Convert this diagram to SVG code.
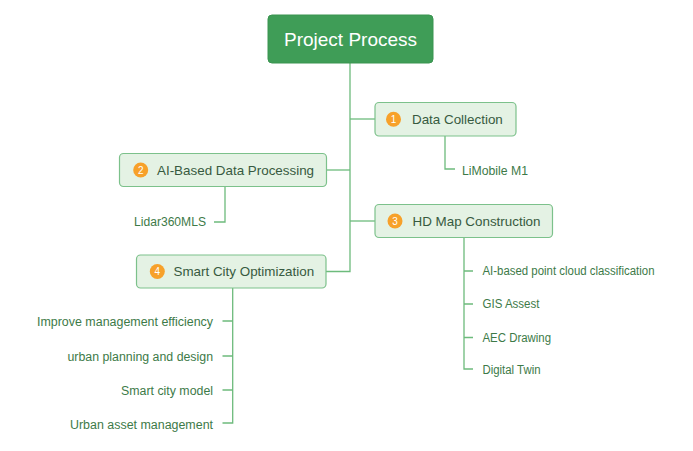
<svg xmlns="http://www.w3.org/2000/svg" width="693" height="451" viewBox="0 0 693 451">
<style>
.bg{fill:#ffffff}
.root{fill:#3f9d57;stroke:#3a9450;stroke-width:1}
.rt{font-family:"Liberation Sans",Arial,sans-serif;font-size:19px;fill:#ffffff}
.box{fill:#e4f2e4;stroke:#7cc18b;stroke-width:1.2}
.bt{font-family:"Liberation Sans",Arial,sans-serif;font-size:13.4px;fill:#375a40}
.badge{fill:#f7a12a}
.bn{font-family:"Liberation Sans",Arial,sans-serif;font-size:10px;fill:#ffffff;text-anchor:middle}
.ct{font-family:"Liberation Sans",Arial,sans-serif;font-size:12px;fill:#3d7a48}
.ln{fill:none;stroke:#6dbb7c;stroke-width:1.3}
</style>
<rect class="bg" x="0" y="0" width="693" height="451"/>
<g id="connectors">
<path class="ln" d="M350 63 V271.5 H326"/>
<path class="ln" d="M350 119 H375"/>
<path class="ln" d="M350 170 H327"/>
<path class="ln" d="M350 221 H375"/>
<path class="ln" d="M445 136 V169 H455"/>
<path class="ln" d="M225 187 V222 H214"/>
<path class="ln" d="M464 238 V369 H473 M464 271 H473 M464 304 H473 M464 337.5 H473"/>
<path class="ln" d="M232.7 288 V423 H222.5 M232.7 321 H222.5 M232.7 356 H222.5 M232.7 390 H222.5"/>
</g>
<g id="root">
<rect class="root" x="268" y="15" width="165" height="48" rx="4"/>
<text class="rt" x="350.5" y="46" text-anchor="middle">Project Process</text>
</g>
<g id="n1">
<rect class="box" x="375" y="102.5" width="141" height="33.5" rx="4"/>
<circle class="badge" cx="393.5" cy="119.3" r="7.5"/>
<text class="bn" x="393.5" y="122.8">1</text>
<text class="bt" x="412" y="123.8">Data Collection</text>
</g>
<g id="n1a">
<text class="ct" x="462" y="174.5" textLength="66" lengthAdjust="spacingAndGlyphs">LiMobile M1</text>
</g>
<g id="n2">
<rect class="box" x="119.5" y="153.5" width="207" height="33" rx="4"/>
<circle class="badge" cx="140.7" cy="170" r="7.5"/>
<text class="bn" x="140.7" y="173.5">2</text>
<text class="bt" x="157" y="174.6">AI-Based Data Processing</text>
</g>
<g id="n2a">
<text class="ct" x="206" y="226" text-anchor="end" textLength="72" lengthAdjust="spacingAndGlyphs">Lidar360MLS</text>
</g>
<g id="n3">
<rect class="box" x="375" y="204.5" width="177.5" height="33" rx="4"/>
<circle class="badge" cx="395" cy="221" r="7.5"/>
<text class="bn" x="395" y="224.5">3</text>
<text class="bt" x="412.5" y="225.6">HD Map Construction</text>
</g>
<g id="n3a"><text class="ct" x="482.5" y="275" textLength="172" lengthAdjust="spacingAndGlyphs">AI-based point cloud classification</text></g>
<g id="n3b"><text class="ct" x="482.5" y="308" textLength="57" lengthAdjust="spacingAndGlyphs">GIS Assest</text></g>
<g id="n3c"><text class="ct" x="482.5" y="341.5" textLength="68.5" lengthAdjust="spacingAndGlyphs">AEC Drawing</text></g>
<g id="n3d"><text class="ct" x="482.5" y="373.5" textLength="58" lengthAdjust="spacingAndGlyphs">Digital Twin</text></g>
<g id="n4">
<rect class="box" x="136.5" y="255" width="189.5" height="33" rx="4"/>
<circle class="badge" cx="157.3" cy="271.5" r="7.5"/>
<text class="bn" x="157.3" y="275">4</text>
<text class="bt" x="173.5" y="276">Smart City Optimization</text>
</g>
<g id="n4a"><text class="ct" x="213" y="325.5" text-anchor="end" textLength="176" lengthAdjust="spacingAndGlyphs">Improve management efficiency</text></g>
<g id="n4b"><text class="ct" x="213" y="360.5" text-anchor="end" textLength="145.5" lengthAdjust="spacingAndGlyphs">urban planning and design</text></g>
<g id="n4c"><text class="ct" x="213" y="394.5" text-anchor="end" textLength="92" lengthAdjust="spacingAndGlyphs">Smart city model</text></g>
<g id="n4d"><text class="ct" x="213" y="428.5" text-anchor="end" textLength="143" lengthAdjust="spacingAndGlyphs">Urban asset management</text></g>
</svg>
